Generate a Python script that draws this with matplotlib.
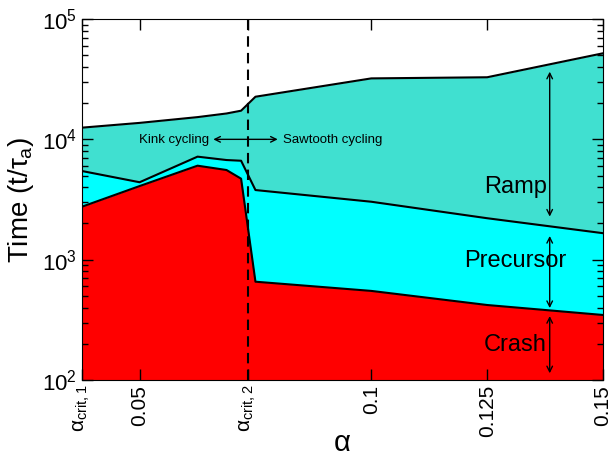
import matplotlib
matplotlib.use("Agg")
import matplotlib.pyplot as plt

plt.rcParams['font.family'] = ['Liberation Sans', 'DejaVu Sans']
plt.rcParams['mathtext.fontset'] = 'custom'
plt.rcParams['mathtext.rm'] = 'Liberation Sans'
plt.rcParams['mathtext.it'] = 'Liberation Sans'
plt.rcParams['mathtext.bf'] = 'Liberation Sans:bold'

# values
alpha = [0.0375, 0.05, 0.0625, 0.06875, 0.0719, 0.075, 0.1, 0.125, 0.15]
crash_top = [2750, 4090, 6040, 5560, 4710, 656, 550, 420, 347]
precursor_top = [5460, 4400, 7180, 6730, 6640, 3790, 3030, 2210, 1660]
ramp_top = [12500, 13700, 15300, 16400, 17300, 22600, 32100, 32800, 51900]

alpha_crit2 = 0.0733
xticks = [0.0375, 0.05, alpha_crit2, 0.1, 0.125, 0.15]
xticklabels = [r'$\alpha_{\mathrm{crit,1}}$', '0.05', r'$\alpha_{\mathrm{crit,2}}$', '0.1', '0.125', '0.15']

fig = plt.figure(figsize=(6.11, 4.58), dpi=100)
ax = fig.add_axes([0.1337, 0.1703, 0.8532, 0.7882])

ax.fill_between(alpha, 100, ramp_top, color='#40E0D0', lw=0)
ax.fill_between(alpha, 100, precursor_top, color='#00FFFF', lw=0)
ax.fill_between(alpha, 100, crash_top, color='#FF0000', lw=0)
ax.plot(alpha, ramp_top, color='k', lw=1.5)
ax.plot(alpha, precursor_top, color='k', lw=1.5)
ax.plot(alpha, crash_top, color='k', lw=1.5)

ax.axvline(alpha_crit2, color='k', lw=1.5, ls=(0, (5, 3)))

ax.set_yscale('log')
ax.set_xlim(0.0375, 0.15)
ax.set_ylim(1e2, 1e5)
ax.set_xticks(xticks)
ax.set_xticklabels(xticklabels, rotation=90, fontsize=15)
ax.tick_params(axis='y', labelsize=16)
ax.tick_params(which='both', direction='in', top=True, right=True)
ax.tick_params(which='major', length=8, width=1)
ax.tick_params(which='minor', length=4, width=1)
ax.tick_params(axis='x', which='minor', bottom=False, top=False)

ax.set_xlabel(r'$\alpha$', fontsize=21)
ax.xaxis.set_label_coords(0.5, -0.135)
ax.set_ylabel(r'Time (t/$\tau_{\mathrm{a}}$)', fontsize=20, labelpad=4)

# regime annotations
ax.annotate('', xy=(0.0659, 1e4), xytext=(0.0798, 1e4),
            arrowprops=dict(arrowstyle='<->', color='k', lw=1, shrinkA=0, shrinkB=0))
ax.text(0.0651, 9800, 'Kink cycling', fontsize=9.5, ha='right', va='center')
ax.text(0.0809, 9800, 'Sawtooth cycling', fontsize=9.5, ha='left', va='center')

arrow_x = 0.1385
for lo, hi in [(2280, 36500), (396, 1574), (113.7, 340)]:
    ax.annotate('', xy=(arrow_x, lo), xytext=(arrow_x, hi),
                arrowprops=dict(arrowstyle='<->', color='k', lw=1, shrinkA=0, shrinkB=0))

ax.text(0.1311, 4040, 'Ramp', fontsize=17, ha='center', va='center')
ax.text(0.1311, 975, 'Precursor', fontsize=17, ha='center', va='center')
ax.text(0.1311, 195, 'Crash', fontsize=17, ha='center', va='center')

fig.savefig('out.png', dpi=100)
